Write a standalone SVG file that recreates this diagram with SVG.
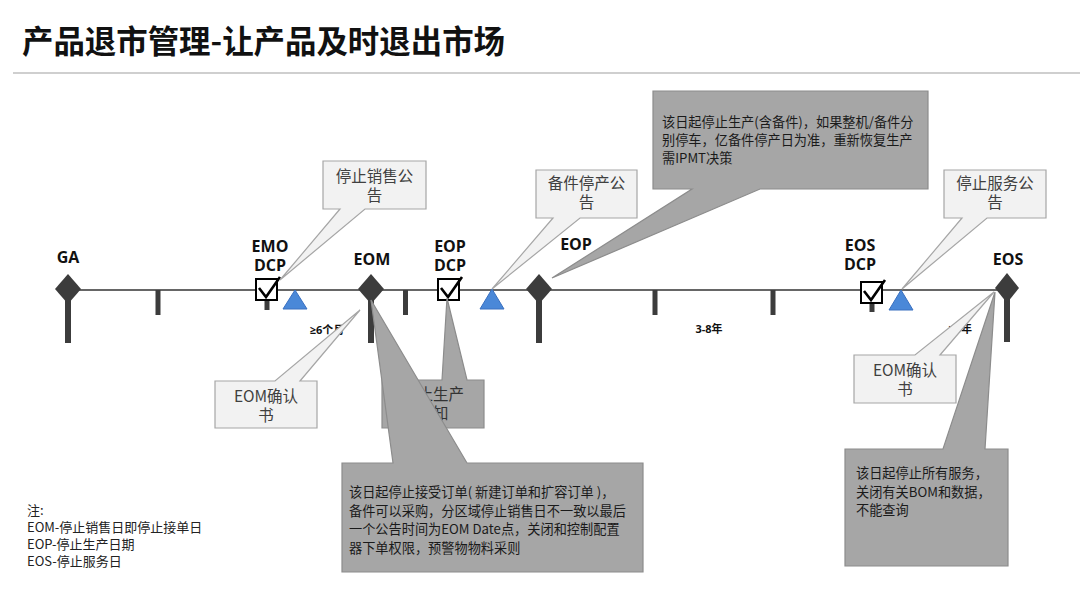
<svg xmlns="http://www.w3.org/2000/svg" width="1080" height="608" viewBox="0 0 1080 608">
<style>
.title{font-family:"Noto Sans CJK SC","Noto Sans",sans-serif;font-weight:700;font-size:31.5px;fill:#111}
.lbl{font-family:"Open Sans","Noto Sans CJK SC",sans-serif;font-weight:700;font-size:16px;fill:#111;text-anchor:middle}
.sm{font-family:"Open Sans","Noto Sans CJK SC",sans-serif;font-weight:700;font-size:11px;fill:#111;text-anchor:middle}
.light{fill:#f2f2f2;stroke:#a6a6a6;stroke-width:1.2}
.dark{fill:#a6a6a6;stroke:#8c8c8c;stroke-width:1.2}
.ct{font-family:"Noto Sans CJK SC","Noto Sans",sans-serif;font-size:15.5px;fill:#404040;text-anchor:middle}
.dt{font-family:"Noto Sans CJK SC","Noto Sans",sans-serif;font-size:13.2px;fill:#1a1a1a}
.note{font-family:"Noto Sans CJK SC","Noto Sans",sans-serif;font-size:13px;fill:#222}
.dia{fill:#3c3c3c}
.stem{fill:#3c3c3c}
.tri{fill:#4a88d8;stroke:#3a70c0;stroke-width:1}
.box{fill:#fff;stroke:#000;stroke-width:2}
.chk{fill:none;stroke:#000;stroke-width:2.6;stroke-linejoin:miter}
</style>
<rect width="1080" height="608" fill="#fff"/>
<text class="title" x="22" y="53" textLength="483" lengthAdjust="spacingAndGlyphs">产品退市管理-让产品及时退出市场</text>
<line x1="13" y1="73" x2="1080" y2="73" stroke="#cfcfcf" stroke-width="2"/>

<g id="timeline">
<line x1="68" y1="290" x2="1000" y2="290" stroke="#333" stroke-width="1.6"/>
<rect class="stem" x="155.5" y="290" width="5" height="25"/>
<rect class="stem" x="403" y="290" width="5" height="25"/>
<rect class="stem" x="652.5" y="290" width="5" height="25"/>
<rect class="stem" x="770.5" y="290" width="5" height="25"/>
</g>

<g id="GA">
<rect class="stem" x="65" y="295" width="6" height="48"/>
<polygon class="dia" points="68,274 81,289 68,304 55,289"/>
<text class="lbl" x="68" y="263">GA</text>
</g>
<g id="EOM">
<rect class="stem" x="368" y="295" width="6" height="48"/>
<polygon class="dia" points="371,274 384,289 371,304 358,289"/>
<text class="lbl" x="372" y="265">EOM</text>
</g>
<g id="EOP">
<rect class="stem" x="536" y="295" width="6" height="48"/>
<polygon class="dia" points="539,274 552,289 539,304 526,289"/>
<text class="lbl" x="576" y="250">EOP</text>
</g>
<g id="EOS">
<rect class="stem" x="1004" y="295" width="6" height="47"/>
<polygon class="dia" points="1007,273 1019,288 1007,303 995,288"/>
<text class="lbl" x="1008" y="265">EOS</text>
</g>

<g id="EMO-DCP">
<rect class="stem" x="264.5" y="299" width="5" height="11"/>
<rect class="box" x="256" y="279" width="21" height="21"/>
<path class="chk" d="M259,288 L266,297 L280,277"/>
<text class="lbl" x="270" y="252">EMO</text>
<text class="lbl" x="270" y="271">DCP</text>
</g>
<g id="EOP-DCP">
<rect class="box" x="438" y="279" width="21" height="21"/>
<path class="chk" d="M441,288 L448,297 L462,277"/>
<text class="lbl" x="450" y="252">EOP</text>
<text class="lbl" x="450" y="271">DCP</text>
</g>
<g id="EOS-DCP">
<rect class="stem" x="869.5" y="302" width="5" height="10"/>
<rect class="box" x="861" y="282" width="21" height="21"/>
<path class="chk" d="M864,291 L871,300 L885,280"/>
<text class="lbl" x="860" y="251">EOS</text>
<text class="lbl" x="860" y="270">DCP</text>
</g>

<g id="triangles">
<polygon class="tri" points="295,290 307,309 283,309"/>
<polygon class="tri" points="492,289 504,309 480,309"/>
<polygon class="tri" points="901,290 913,310 889,310"/>
</g>

<g id="durations">
<text class="sm" x="327" y="334">≥6个月</text>
<text class="sm" x="709" y="333">3-8年</text>
<text class="sm" x="972" y="333" style="text-anchor:end">≥5年</text>
</g>

<g id="connectors">
</g>

<g id="callout-stop-sale">
<path class="light" d="M323,161 H426 V209 H365 L280,280 L340,209 H323 Z"/>
<text class="ct" x="374.5" y="182">停止销售公</text>
<text class="ct" x="374.5" y="201">告</text>
</g>
<g id="callout-spare">
<path class="light" d="M536,170 H637 V218 H580 L492,289 L553,218 H536 Z"/>
<text class="ct" x="586.5" y="189">备件停产公</text>
<text class="ct" x="586.5" y="208">告</text>
</g>
<g id="callout-stop-service">
<path class="light" d="M944,170 H1046 V218 H987 L902,289 L962,218 H944 Z"/>
<text class="ct" x="995" y="189">停止服务公</text>
<text class="ct" x="995" y="208">告</text>
</g>
<g id="callout-eop-desc">
<path class="dark" d="M653,91 H928 V189 H760 L552,278 L692,189 H653 Z"/>
<text class="dt" x="662" y="127">该日起停止生产(含备件)，如果整机/备件分</text>
<text class="dt" x="662" y="145">别停车，亿备件停产日为准，重新恢复生产</text>
<text class="dt" x="662" y="163">需IPMT决策</text>
</g>
<g id="callout-stop-prod">
<path class="dark" d="M382,380 H442 L447,298 L467,380 H484 V428 H382 Z"/>
<text class="ct" x="433" y="400" style="fill:#333">停止生产</text>
<text class="ct" x="433" y="419" style="fill:#333">通知</text>
</g>
<g id="callout-eom-desc">
<path class="dark" d="M342,463 H393 L371,300 L467,463 H643 V572 H342 Z"/>
<text class="dt" x="349" y="497">该日起停止接受订单( 新建订单和扩容订单 )，</text>
<text class="dt" x="349" y="515.5">备件可以采购，分区域停止销售日不一致以最后</text>
<text class="dt" x="349" y="534">一个公告时间为EOM Date点，关闭和控制配置</text>
<text class="dt" x="349" y="552.5">器下单权限，预警物物料采则</text>
</g>
<g id="callout-eom-confirm-1">
<path class="light" d="M215,381 H275 L360,310 L300,381 H317 V428 H215 Z"/>
<text class="ct" x="266" y="402">EOM确认</text>
<text class="ct" x="266" y="421">书</text>
</g>
<g id="callout-eos-desc">
<path class="dark" d="M845,449 H943 L995,292 L985,449 H1008 V566 H845 Z"/>
<text class="dt" x="856" y="478">该日起停止所有服务，</text>
<text class="dt" x="856" y="496.5">关闭有关BOM和数据，</text>
<text class="dt" x="856" y="515">不能查询</text>
</g>
<g id="callout-eom-confirm-2">
<path class="light" d="M854,355 H915 L994,292 L940,355 H956 V403 H854 Z"/>
<text class="ct" x="905" y="376">EOM确认</text>
<text class="ct" x="905" y="395">书</text>
</g>

<g id="notes">
<text class="note" x="27" y="515">注:</text>
<text class="note" x="27" y="532">EOM-停止销售日即停止接单日</text>
<text class="note" x="27" y="549">EOP-停止生产日期</text>
<text class="note" x="27" y="566">EOS-停止服务日</text>
</g>
</svg>
